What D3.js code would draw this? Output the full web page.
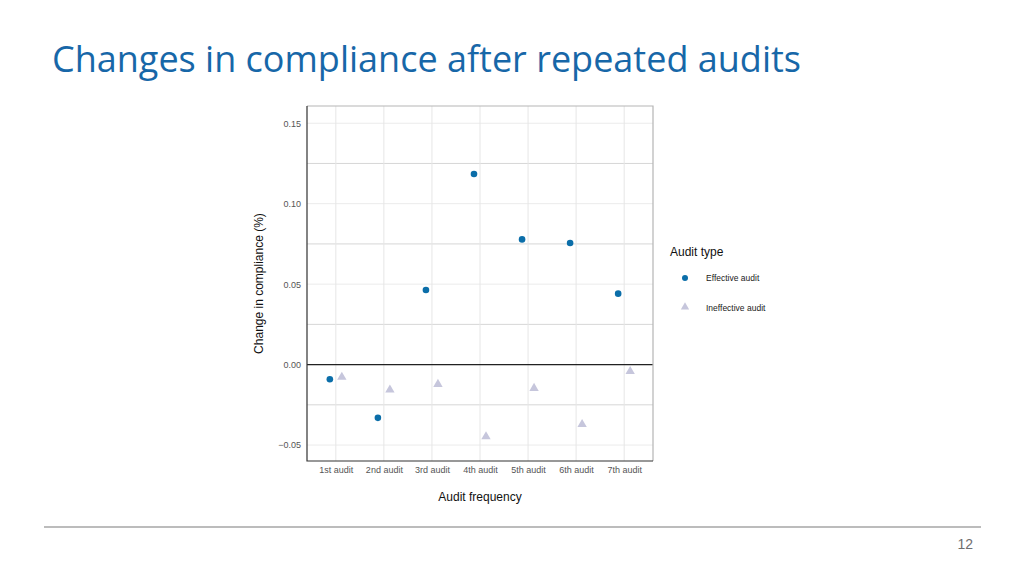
<!DOCTYPE html>
<html>
<head>
<meta charset="utf-8">
<script src="https://cdn.jsdelivr.net/npm/d3@7"></script>
<style>
  body { margin: 0; background: #fff; }
  svg { display: block; }
</style>
</head>
<body>
<div id="slide"></div>
<script>
// data
const audits = ["1st audit", "2nd audit", "3rd audit", "4th audit", "5th audit", "6th audit", "7th audit"];
const effective = [-0.0091, -0.0331, 0.0464, 0.1184, 0.0778, 0.0756, 0.0441];
const ineffective = [-0.0078, -0.0157, -0.0122, -0.0447, -0.0147, -0.0371, -0.0042];
const yTicks = [-0.05, 0.00, 0.05, 0.10, 0.15];
const yMinor = [-0.025, 0.025, 0.075, 0.125];

const W = 1024, H = 576;
const svg = d3.select("#slide").append("svg").attr("width", W).attr("height", H);

// slide title
svg.append("text")
    .attr("x", 52).attr("y", 72)
    .attr("font-family", "'Open Sans', sans-serif")
    .attr("font-size", 36)
    .attr("fill", "#1767a8")
    .text("Changes in compliance after repeated audits");

// footer rule + page number
svg.append("line")
    .attr("x1", 44).attr("x2", 981).attr("y1", 527).attr("y2", 527)
    .attr("stroke", "#a6a6a6").attr("stroke-width", 1.5);
svg.append("text")
    .attr("x", 973).attr("y", 549).attr("text-anchor", "end")
    .attr("font-family", "'Liberation Sans Narrow', 'Liberation Sans', sans-serif")
    .attr("font-size", 14).attr("fill", "#6f6f6f")
    .text("12");

// plot panel
const pLeft = 307, pRight = 653, pTop = 106, pBottom = 461;
const x = d3.scalePoint().domain(audits).range([pLeft, pRight]).padding(0.6);
const y = d3.scaleLinear().domain([-0.0599, 0.1607]).range([pBottom, pTop]);

const g = svg.append("g").attr("font-family", "'Liberation Sans', Arial, sans-serif");

// grid
g.selectAll(".minor").data(yMinor).join("line")
    .attr("x1", pLeft).attr("x2", pRight)
    .attr("y1", d => y(d)).attr("y2", d => y(d))
    .attr("stroke", "#d6d6d6").attr("stroke-width", 1);
g.selectAll(".major").data(yTicks).join("line")
    .attr("x1", pLeft).attr("x2", pRight)
    .attr("y1", d => y(d)).attr("y2", d => y(d))
    .attr("stroke", "#ebebeb").attr("stroke-width", 1);
g.selectAll(".vgrid").data(audits).join("line")
    .attr("x1", d => x(d)).attr("x2", d => x(d))
    .attr("y1", pTop).attr("y2", pBottom)
    .attr("stroke", "#e6e6e6").attr("stroke-width", 1);

// zero line
g.append("line")
    .attr("x1", pLeft).attr("x2", pRight).attr("y1", y(0)).attr("y2", y(0))
    .attr("stroke", "#222").attr("stroke-width", 1.2);

// border: light top/right, dark axis lines left/bottom
g.append("path")
    .attr("d", `M${pLeft},${pTop}H${pRight}V${pBottom}`)
    .attr("fill", "none").attr("stroke", "#b5b5b5").attr("stroke-width", 1.2);
g.append("path")
    .attr("d", `M${pLeft},${pTop}V${pBottom}H${pRight}`)
    .attr("fill", "none").attr("stroke", "#333").attr("stroke-width", 1.2);

// y axis
const yAxis = g.append("g").attr("transform", `translate(${pLeft},0)`)
    .call(d3.axisLeft(y).tickValues(yTicks).tickFormat(d3.format(".2f")).tickSize(0).tickPadding(6));
yAxis.select(".domain").remove();
yAxis.selectAll("text").attr("font-size", 9).attr("fill", "#555").attr("font-family", null);

// x axis
const xAxis = g.append("g").attr("transform", `translate(0,${pBottom})`)
    .call(d3.axisBottom(x).tickSize(0).tickPadding(6));
xAxis.select(".domain").remove();
xAxis.selectAll("text").attr("font-size", 9).attr("fill", "#555").attr("font-family", null);

// axis titles
g.append("text")
    .attr("x", (pLeft + pRight) / 2).attr("y", 501).attr("text-anchor", "middle")
    .attr("font-size", 12).attr("fill", "#111")
    .text("Audit frequency");
g.append("text")
    .attr("transform", `translate(263,${(pTop + pBottom) / 2}) rotate(-90)`)
    .attr("text-anchor", "middle")
    .attr("font-size", 12).attr("fill", "#111")
    .text("Change in compliance (%)");

// points
const dodge = 6;
const tri = d3.symbol().type(d3.symbolTriangle).size(38);
g.selectAll(".ineff").data(ineffective).join("path")
    .attr("d", tri)
    .attr("transform", (d, i) => `translate(${x(audits[i]) + dodge},${y(d)})`)
    .attr("fill", "#c6c6dc");
g.selectAll(".eff").data(effective).join("circle")
    .attr("cx", (d, i) => x(audits[i]) - dodge)
    .attr("cy", d => y(d))
    .attr("r", 3.3)
    .attr("fill", "#0b6ea9");

// legend
const lg = g.append("g").attr("transform", "translate(670,0)");
lg.append("text").attr("x", 0).attr("y", 256)
    .attr("font-size", 12).attr("fill", "#111").text("Audit type");
lg.append("circle").attr("cx", 15).attr("cy", 278).attr("r", 3).attr("fill", "#0b6ea9");
lg.append("text").attr("x", 36).attr("y", 281)
    .attr("font-size", 8.5).attr("fill", "#222").text("Effective audit");
lg.append("path").attr("d", d3.symbol().type(d3.symbolTriangle).size(30))
    .attr("transform", "translate(15,307)").attr("fill", "#c6c6dc");
lg.append("text").attr("x", 36).attr("y", 311)
    .attr("font-size", 8.5).attr("fill", "#222").text("Ineffective audit");
</script>
</body>
</html>
